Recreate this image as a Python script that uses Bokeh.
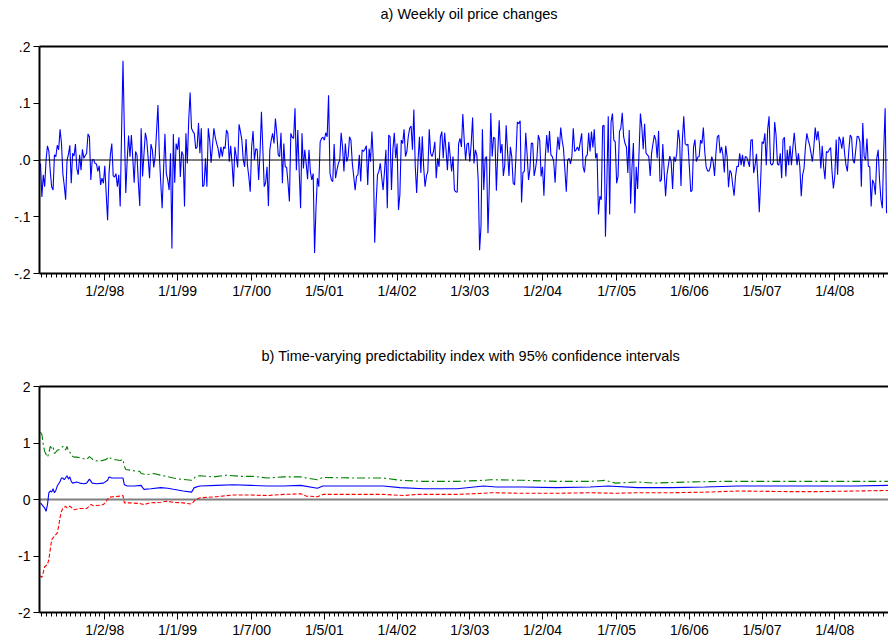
import pandas as pd
from bokeh.plotting import figure
from bokeh.models import (Range1d, FixedTicker, CustomJSTickFormatter, LinearAxis,
                          Span, Title)
from bokeh.layouts import column
from bokeh.embed import file_html
from bokeh.resources import INLINE

FONT = "Liberation Sans"

# ---------------- data ----------------
start_date = "1997-02-14"   # first weekly observation (Fridays)

oil_changes = [
    -0.006, -0.065, -0.026, -0.047, 0.0, 0.025, 0.015, -0.02, -0.047, -0.053,
    0.009, 0.006, 0.026, 0.018, 0.054, 0.03, -0.024, -0.045, -0.07, 0.0,
    0.01, 0.026, -0.041, 0.012, 0.007, 0.028, -0.015, -0.026, 0.009, -0.018,
    0.019, 0.003, 0.008, 0.012, 0.046, 0.041, -0.035, 0.0, 0.001, -0.006,
    -0.007, -0.02, -0.01, -0.044, -0.032, -0.041, -0.01, -0.06, -0.106, -0.024,
    0.01, 0.029, -0.028, -0.03, -0.024, -0.047, -0.026, -0.082, 0.05, 0.175,
    0.05, -0.058, 0.0, 0.043, 0.006, 0.044, 0.003, -0.04, 0.015, 0.009,
    -0.04, -0.081, 0.056, -0.029, 0.01, 0.048, 0.035, 0.003, -0.032, 0.028,
    0.018, -0.013, 0.006, 0.05, 0.097, 0.009, -0.04, -0.085, -0.018, 0.046,
    -0.024, -0.035, -0.053, 0.012, -0.156, 0.046, -0.04, 0.029, 0.018, 0.04,
    -0.03, 0.015, 0.009, -0.082, 0.047, -0.006, 0.07, 0.119, 0.056, 0.05,
    0.047, 0.02, 0.023, 0.065, 0.012, 0.056, -0.047, -0.044, 0.003, -0.047,
    0.056, 0.035, -0.005, 0.025, 0.056, 0.04, 0.029, 0.02, 0.003, 0.023,
    0.006, 0.023, 0.02, 0.053, 0.047, -0.003, 0.025, -0.006, -0.047, 0.023,
    0.006, -0.013, 0.063, 0.05, 0.035, 0.0, -0.012, 0.037, -0.009, -0.03,
    -0.056, 0.023, 0.051, 0.0, 0.02, 0.018, -0.035, 0.012, 0.085, 0.02,
    -0.047, -0.04, -0.012, -0.081, 0.018, 0.035, 0.047, 0.029, 0.073, 0.047,
    0.009, 0.006, 0.048, -0.041, 0.029, -0.012, -0.013, -0.04, -0.073, 0.047,
    0.04, 0.038, 0.091, -0.018, 0.053, -0.02, -0.085, 0.047, -0.015, 0.018,
    -0.006, -0.034, 0.018, -0.02, -0.035, -0.024, -0.164, -0.085, -0.032, -0.047,
    0.032, 0.038,
    0.04, 0.035, 0.048, 0.041, 0.114, -0.023, -0.035, -0.038, 0.028, -0.032,
    -0.018, -0.006, 0.0, 0.048, 0.023, -0.02, 0.029, -0.003, 0.006, 0.041,
    0.035, -0.006, -0.029, -0.053, -0.029, -0.026, 0.009, -0.038, 0.018, 0.015,
    0.019, 0.025, -0.044, 0.02, -0.003, 0.05, 0.0, -0.146, -0.076, -0.026,
    -0.02, -0.006, -0.03, -0.053, -0.02, 0.018, -0.085, 0.044, 0.041, -0.053,
    0.018, 0.048, 0.003, 0.029, -0.088, -0.061, 0.035, 0.029, 0.054, 0.006,
    0.015, 0.041, 0.056, 0.06, 0.018, 0.089, -0.012, -0.058, 0.0, 0.041,
    -0.023, 0.042, -0.012, -0.047, -0.028, -0.02, 0.054, 0.012, 0.006, 0.015,
    0.032, -0.032, 0.003, -0.012, 0.041, 0.05, 0.003, 0.048, 0.018, -0.018,
    0.032, 0.006, -0.02, 0.006, -0.053, -0.056, -0.057, 0.029, 0.038, 0.023,
    0.081,
    0.035, 0.0, 0.028, 0.03, -0.003, 0.029, 0.075, -0.006, 0.018, 0.009,
    -0.035, -0.159, -0.117, 0.054, -0.053, 0.003, 0.006, -0.129, -0.041, 0.083,
    0.006, 0.04, 0.038, -0.054, 0.013, 0.07, 0.012, 0.028, -0.028, -0.009,
    0.061, 0.015, -0.028, 0.023, 0.006, -0.041, -0.044, 0.006, 0.067, 0.064,
    0.069, -0.075, -0.022, -0.02, 0.048, 0.009, -0.035, -0.016, 0.03, 0.029,
    -0.028, -0.015, 0.003, 0.044, 0.035, -0.029, -0.012, -0.063, 0.006, 0.044,
    0.013, 0.051, 0.009, 0.006, -0.003, -0.04, 0.009, 0.041, 0.018, 0.057,
    0.035, 0.02, -0.018, -0.056, 0.0, 0.003, -0.007, 0.006, 0.056, 0.015,
    0.018, 0.023, 0.016, 0.032, 0.047, -0.012, -0.022, 0.006, 0.009, 0.048,
    0.015, 0.05, 0.022, 0.054, 0.003, 0.012, -0.096, -0.064, -0.07, 0.06,
    0.061,
    -0.135, -0.04, 0.077, -0.096, 0.067, 0.082, 0.035, 0.032, -0.041, -0.029,
    0.05, 0.056, 0.083, 0.041, 0.029, 0.023, -0.023, 0.053, -0.077, -0.012,
    0.03, -0.094, -0.012, -0.051, 0.012, 0.082, 0.058, 0.019, 0.064, 0.012,
    0.009, 0.006, -0.028, 0.012, 0.029, 0.044, 0.035, 0.003, 0.051, -0.038,
    -0.035, 0.028, -0.02, -0.064, -0.026, -0.009, 0.007, -0.003, -0.051, 0.006,
    -0.003, 0.012, 0.053, 0.035, -0.046, 0.035, 0.077, 0.029, 0.026, 0.028,
    -0.012, -0.056, -0.053, 0.023, 0.036, -0.003, 0.005, 0.006, 0.035, 0.029,
    0.057, 0.015, -0.012, -0.019, -0.02, -0.012, 0.006, -0.003, -0.028, 0.012,
    0.041, 0.044, 0.012, 0.023, 0.009, -0.022, 0.025, 0.006, -0.048, -0.018,
    -0.023, -0.044, -0.063, -0.029, -0.011, -0.012, 0.012, -0.009, 0.009, -0.012,
    0.006,
    0.005, -0.003, -0.012, 0.035, 0.036, -0.023, -0.009, 0.011, -0.035, -0.092,
    -0.035, 0.032, 0.029, 0.047, -0.009, 0.054, 0.077, -0.006, -0.009, -0.005,
    0.067, 0.044, -0.007, -0.009, 0.012, -0.032, 0.036, 0.04, -0.029, 0.018,
    -0.009, 0.025, -0.009, 0.022, 0.048, 0.018, -0.009, 0.012, -0.012, -0.064,
    -0.026, -0.015, 0.023, 0.047, 0.035, 0.026, 0.012, -0.003, 0.023, 0.057,
    0.035, 0.051, 0.029, -0.015, 0.025, -0.012, -0.034, 0.015, 0.013, 0.018,
    0.022, -0.02, -0.05, -0.029, 0.036, -0.026, 0.041, 0.035, 0.02, 0.041,
    0.012, -0.009, -0.02, 0.016, 0.044, 0.04, 0.0, -0.006, 0.018, 0.042,
    0.041, 0.032, -0.047, 0.065, 0.006, 0.0, 0.038, -0.011, -0.012, -0.082,
    -0.035, -0.041, -0.061, 0.003, 0.018, -0.035, -0.07, -0.085, 0.018, 0.091,
    -0.094,
]

# predictability index (week number since start, value)
index_weeks = [0, 1, 2, 3, 4, 5, 6, 7, 8, 9, 10, 11, 12, 14, 15, 16, 17, 19, 20, 21,
               22, 23, 26, 28, 31, 33, 35, 37, 40, 45, 48, 49, 51, 55, 59, 60, 62, 67,
               72, 73, 74, 79, 86, 91, 95, 102, 108, 110, 114, 126, 138, 150, 162, 174,
               186, 198, 202, 226, 245, 257, 274, 298, 317, 326, 345, 369, 393, 406,
               427, 451, 475, 499, 535, 558, 582, 606]
index_values = [-0.06, -0.09, -0.12, -0.15, -0.21, -0.09, 0.12, 0.15, 0.13, 0.19, 0.12,
                0.16, 0.24, 0.32, 0.38, 0.38, 0.35, 0.42, 0.36, 0.40, 0.32, 0.29, 0.31,
                0.29, 0.28, 0.29, 0.36, 0.29, 0.28, 0.29, 0.34, 0.40, 0.38, 0.38, 0.38,
                0.26, 0.24, 0.24, 0.25, 0.21, 0.18, 0.19, 0.21, 0.20, 0.18, 0.15, 0.13,
                0.21, 0.24, 0.25, 0.26, 0.25, 0.24, 0.24, 0.25, 0.20, 0.24, 0.24, 0.24,
                0.21, 0.19, 0.19, 0.24, 0.22, 0.22, 0.21, 0.22, 0.24, 0.21, 0.21, 0.22,
                0.24, 0.24, 0.24, 0.24, 0.25]

upper_weeks = [0, 1, 2, 3, 5, 6, 7, 8, 9, 10, 12, 14, 16, 18, 19, 20, 21, 22, 24, 26,
               28, 31, 33, 35, 37, 38, 43, 47, 49, 50, 52, 57, 59, 60, 61, 64, 69, 71,
               72, 76, 81, 86, 90, 95, 100, 108, 109, 111, 114, 124, 133, 143, 152,
               162, 174, 186, 198, 202, 226, 245, 257, 274, 298, 317, 322, 345, 369,
               393, 404, 411, 427, 439, 463, 487, 511, 535, 558, 582, 606]
upper_values = [1.19, 1.15, 0.97, 0.85, 0.75, 0.82, 0.94, 0.91, 0.94, 0.81, 0.87, 0.89,
                0.94, 0.88, 0.94, 0.85, 0.84, 0.78, 0.75, 0.75, 0.74, 0.72, 0.71, 0.76,
                0.72, 0.69, 0.68, 0.71, 0.76, 0.73, 0.71, 0.69, 0.71, 0.59, 0.53, 0.52,
                0.50, 0.50, 0.46, 0.44, 0.46, 0.43, 0.41, 0.38, 0.36, 0.34, 0.35, 0.41,
                0.42, 0.40, 0.43, 0.41, 0.41, 0.38, 0.40, 0.40, 0.35, 0.39, 0.38, 0.38,
                0.34, 0.32, 0.32, 0.34, 0.35, 0.34, 0.32, 0.32, 0.34, 0.29, 0.31, 0.29,
                0.31, 0.32, 0.32, 0.32, 0.32, 0.32, 0.32]

lower_weeks = [0, 1, 2, 3, 5, 6, 7, 8, 9, 10, 12, 13, 14, 15, 16, 18, 19, 21, 24, 28,
               33, 36, 38, 43, 45, 47, 49, 52, 57, 59, 60, 64, 71, 74, 78, 86, 90, 95,
               102, 108, 111, 114, 126, 138, 150, 162, 174, 186, 190, 198, 202, 226,
               245, 260, 269, 298, 317, 322, 345, 369, 393, 411, 427, 451, 475, 499,
               535, 558, 582, 606]
lower_values = [-1.35, -1.38, -1.29, -1.19, -1.15, -1.06, -0.88, -0.71, -0.68, -0.65,
                -0.59, -0.47, -0.32, -0.21, -0.16, -0.12, -0.15, -0.12, -0.18, -0.16,
                -0.16, -0.09, -0.11, -0.10, -0.09, -0.03, 0.04, 0.05, 0.06, 0.07,
                -0.06, -0.06, -0.07, -0.09, -0.06, -0.05, -0.03, -0.05, -0.06, -0.08,
                0.0, 0.03, 0.05, 0.08, 0.08, 0.07, 0.09, 0.10, 0.06, 0.05, 0.09, 0.09,
                0.09, 0.07, 0.09, 0.09, 0.11, 0.12, 0.11, 0.11, 0.12, 0.11, 0.12, 0.12,
                0.13, 0.15, 0.14, 0.14, 0.15, 0.16]

tick_dates = ["1998-01-02", "1999-01-01", "2000-01-07", "2001-01-05", "2002-01-04",
              "2003-01-03", "2004-01-02", "2005-01-07", "2006-01-06", "2007-01-05",
              "2008-01-04"]

# ---------------- helpers ----------------
WEEK = 7 * 86400000
t0 = pd.Timestamp(start_date).value // 10**6


def wk(w):
    return t0 + w * WEEK


x_oil = [wk(i) for i in range(len(oil_changes))]
x_start, x_end = wk(-0.7), wk(606.4)

major = [pd.Timestamp(d).value // 10**6 for d in tick_dates]
step = (major[1] - major[0]) / 15.0
minor = []
t = major[0] - step
while t > x_start:
    minor.append(t)
    t -= step
for a, b in zip(major[:-1], major[1:]):
    s = (b - a) / 15.0
    minor += [a + k * s for k in range(1, 15)]
t = major[-1] + step
while t < x_end:
    minor.append(t)
    t += step

date_fmt = CustomJSTickFormatter(code="""
const d = new Date(tick);
return (d.getUTCMonth() + 1) + "/" + d.getUTCDate() + "/" + String(d.getUTCFullYear()).slice(2);
""")


def make_fig(height, top, bottom, yr, yticks, yfmt, title, t_offset, spacer):
    p = figure(width=888, height=height, x_range=Range1d(x_start, x_end),
               y_range=Range1d(*yr), output_backend="svg", toolbar_location=None,
               min_border_left=39, min_border_right=0, min_border_top=top,
               min_border_bottom=bottom)
    p.outline_line_color = None
    p.xgrid.visible = False
    p.ygrid.visible = False
    p.background_fill_color = "white"
    p.border_fill_color = "white"

    xa = p.xaxis[0]
    xa.ticker = FixedTicker(ticks=major, minor_ticks=minor)
    xa.formatter = date_fmt
    xa.axis_line_width = 2
    xa.axis_line_color = "black"
    xa.major_tick_out = 7
    xa.major_tick_in = 0
    xa.minor_tick_out = 4
    xa.minor_tick_in = 0
    xa.major_tick_line_color = "black"
    xa.minor_tick_line_color = "black"
    xa.major_label_standoff = 2
    xa.major_label_text_font = FONT
    xa.major_label_text_font_size = "14px"
    xa.major_label_text_color = "black"

    ya = p.yaxis[0]
    ya.ticker = FixedTicker(ticks=yticks, minor_ticks=[])
    ya.formatter = CustomJSTickFormatter(code=yfmt)
    ya.axis_line_width = 2
    ya.axis_line_color = "black"
    ya.major_tick_out = 6
    ya.major_tick_in = 0
    ya.minor_tick_out = 0
    ya.minor_tick_in = 0
    ya.major_label_standoff = 3
    ya.major_label_text_font = FONT
    ya.major_label_text_font_size = "14px"
    ya.major_label_text_color = "black"

    # top border of the frame; one transparent, unlabeled tick reserves the
    # gap between the frame and the title
    top_axis = LinearAxis(ticker=FixedTicker(ticks=[major[0]], minor_ticks=[]),
                          formatter=CustomJSTickFormatter(code="return '';"),
                          axis_line_width=2, axis_line_color="black",
                          major_tick_out=spacer, major_tick_in=0, minor_tick_out=0,
                          minor_tick_in=0, major_tick_line_alpha=0,
                          major_label_standoff=0)
    p.add_layout(top_axis, "above")

    p.title = Title(text=title, align="left", offset=t_offset, text_font=FONT,
                    text_font_size="14.5px", text_font_style="normal",
                    text_color="black", standoff=2, vertical_align="bottom")
    return p


# ---------------- panel a ----------------
p1 = make_fig(304, 46, 31, (-0.2, 0.2), [-0.2, -0.1, 0.0, 0.1, 0.2],
              "return tick.toFixed(1).replace('0.', '.');",
              "a) Weekly oil price changes", 341, 24)
p1.add_layout(Span(location=0, dimension="width", line_color="black", line_width=1))
p1.line(x_oil, oil_changes, line_color="#0000FF", line_width=1.1)

# ---------------- panel b ----------------
p2 = make_fig(337, 82, 29, (-2, 2), [-2, -1, 0, 1, 2],
              "return tick.toFixed(0);",
              "b) Time-varying predictability index with 95% confidence intervals",
              222, 22)
p2.add_layout(Span(location=0, dimension="width", line_color="#808080",
                   line_width=2, level="underlay"))
p2.line([wk(w) for w in upper_weeks], upper_values, line_color="#008000",
        line_width=1.1, line_dash="8 3 2 3")
p2.line([wk(w) for w in index_weeks], index_values, line_color="#0000FF",
        line_width=1.1)
p2.line([wk(w) for w in lower_weeks], lower_values, line_color="#FF0000",
        line_width=1.1, line_dash="4 2")

layout = column(p1, p2, spacing=0)
open("out.html", "w").write(file_html(layout, INLINE))
